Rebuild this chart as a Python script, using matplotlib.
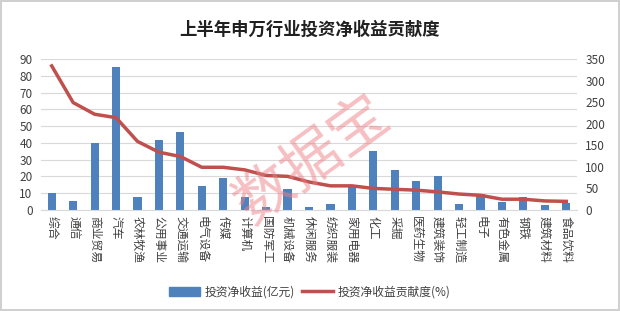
import matplotlib.pyplot as plt
import matplotlib.patches as mpatches
import numpy as np

plt.rcParams['font.family'] = ['Noto Sans CJK SC', 'DejaVu Sans']

# Data
industries = ['综合', '通信', '商业贸易', '汽车', '农林牧渔', '公用事业', '交通运输', '电气设备',
              '传媒', '计算机', '国防军工', '机械设备', '休闲服务', '纺织服装', '家用电器', '化工',
              '采掘', '医药生物', '建筑装饰', '轻工制造', '电子', '有色金属', '钢铁', '建筑材料', '食品饮料']
net_income = [10, 5.5, 40, 85, 8, 42, 46.5, 14.5, 19, 8, 2, 12.5, 2, 3.4, 14.5, 35.3,
              23.8, 17.5, 20.4, 3.6, 9.5, 4.8, 7.6, 3.2, 4.4]
contribution = [334, 249, 222, 214, 159, 134, 124, 99, 99, 93, 80, 78, 65, 56, 56, 50,
                48, 46, 42, 37, 34, 25, 25, 21, 20]
left_ticks = list(range(0, 91, 10))
right_ticks = list(range(0, 351, 50))

blue = '#4F81BD'
red = '#C0504D'

fig = plt.figure(figsize=(6.2, 3.11), dpi=100)
fig.patch.set_facecolor('white')
fig.patch.set_edgecolor('#D0D0D0')
fig.patch.set_linewidth(1.5)

ax = fig.add_axes([41 / 620, 1 - 210 / 311, (577 - 41) / 620, (210 - 59) / 311])
x = np.arange(len(industries))

ax.bar(x, net_income, width=0.38, color=blue, zorder=2)
ax.set_ylim(0, 90)
ax.set_yticks(left_ticks)
ax.set_xlim(-0.5, len(industries) - 0.5)
ax.set_xticks(x)
ax.set_xticklabels(industries, rotation=-90, fontsize=8.5, va='top', ha='center')
ax.tick_params(axis='both', length=0, colors='#404040')
ax.tick_params(axis='y', labelsize=8.5, pad=6)
ax.tick_params(axis='x', pad=4)
ax.grid(axis='y', color='#D9D9D9', linewidth=0.8, zorder=0)
for s in ['top', 'right', 'left']:
    ax.spines[s].set_visible(False)
ax.spines['bottom'].set_color('#D9D9D9')

ax2 = ax.twinx()
ax2.plot(x, contribution, color=red, linewidth=2.5, zorder=3)
ax2.set_ylim(0, 350)
ax2.set_yticks(right_ticks)
ax2.tick_params(axis='y', length=0, labelsize=8.5, colors='#404040', pad=6)
for s in ['top', 'right', 'left', 'bottom']:
    ax2.spines[s].set_visible(False)

fig.text(0.5, 1 - 30 / 311, '上半年申万行业投资净收益贡献度', ha='center', va='center',
         fontsize=12.5, fontweight='bold', color='#202020')

# watermark
fig.text(313 / 620, 1 - 160 / 311, '数据宝', ha='center', va='center', fontsize=42,
         color='#EE7F86', alpha=0.5, rotation=36, zorder=10)

handles = [mpatches.Patch(color=blue, label='投资净收益(亿元)'),
           plt.Line2D([], [], color=red, linewidth=2.5, label='投资净收益贡献度(%)')]
fig.legend(handles=handles, loc='center', bbox_to_anchor=(0.5, 1 - 292 / 311), ncol=2,
           frameon=False, fontsize=8.5, handlelength=2.6, columnspacing=0.6,
           handletextpad=0.4, labelcolor='#404040')

fig.savefig('out.png', dpi=100, facecolor=fig.get_facecolor(), edgecolor=fig.get_edgecolor())
